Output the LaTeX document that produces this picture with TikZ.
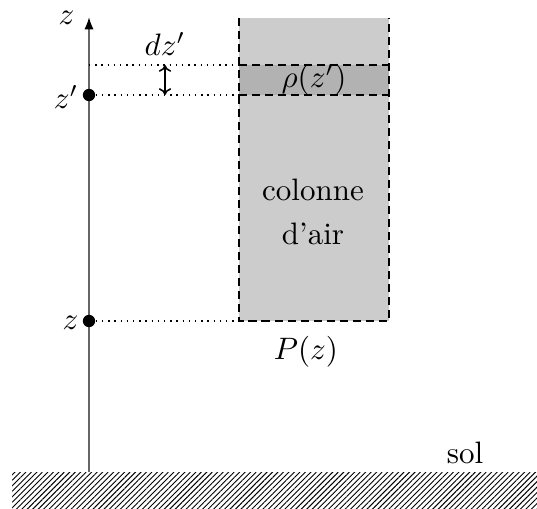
\documentclass[tikz,border=0pt]{standalone}
\usetikzlibrary{patterns.meta,arrows.meta}
\begin{document}
\begin{tikzpicture}[x=0.3226pt,y=-0.3226pt,
  dashline/.style={draw=black,line width=0.5pt,dash pattern=on 2.6pt off 1.6pt},
  dotline/.style={line width=0.45pt,dash pattern=on 0.45pt off 1.55pt},
  lbl/.style={inner sep=1pt,font=\fontsize{10}{14}\selectfont},
  ptdot/.style={circle,fill=black,inner sep=0pt,minimum size=4pt}]
\useasboundingbox (0,0) rectangle (537,509);
% ground
\fill[pattern={Lines[angle=45,distance=1.25pt,line width=0.3pt]}] (12,472) rectangle (537,509);
% column
\fill[gray!40] (239,18) rectangle (389,321);
\fill[gray!60] (239,65) rectangle (389,95);
\draw[dashline] (239,18) -- (239,321) -- (389,321) -- (389,18);
\draw[dashline] (239,65) -- (389,65);
\draw[dashline] (239,95) -- (389,95);
% axis
\coordinate (base) at (89,472);
\coordinate (top) at (89,17);
\draw[black!60,line width=0.6pt,-{Latex[length=4pt,width=3pt,color=black]}] (base) -- (top);
\node[lbl,anchor=east] (zt) at (78,18) {$z$};
% points
\node[ptdot] (pzp) at (89,95) {};
\node[ptdot] (pz) at (89,321) {};
\node[lbl,anchor=east] (lzp) at (82,97) {$z'$};
\node[lbl,anchor=east] (lz) at (82,323) {$z$};
\coordinate (c1) at (239,65);
\coordinate (c0) at (89,65);
\coordinate (c2) at (239,95);
\coordinate (c3) at (239,321);
\draw[dotline] (c0) -- (c1);
\draw[dotline] (pzp) -- (c2);
\draw[dotline] (pz) -- (c3);
% dz'
\coordinate (a1) at (165,65);
\coordinate (a2) at (165,95);
\draw[line width=0.5pt,{To[length=2.2pt,width=4pt]}-{To[length=2.2pt,width=4pt]}] (a1) -- (a2);
\node[lbl] (dz) at (165,44) {$dz'$};
% labels
\node[lbl] (rho) at (314,80) {$\rho(z')$};
\node[lbl,align=center] (col) at (313,212) {colonne\\d'air};
\node[lbl] (pzl) at (306,352) {$P(z)$};
\node[lbl] (sol) at (465,453) {sol};
\end{tikzpicture}
\end{document}
